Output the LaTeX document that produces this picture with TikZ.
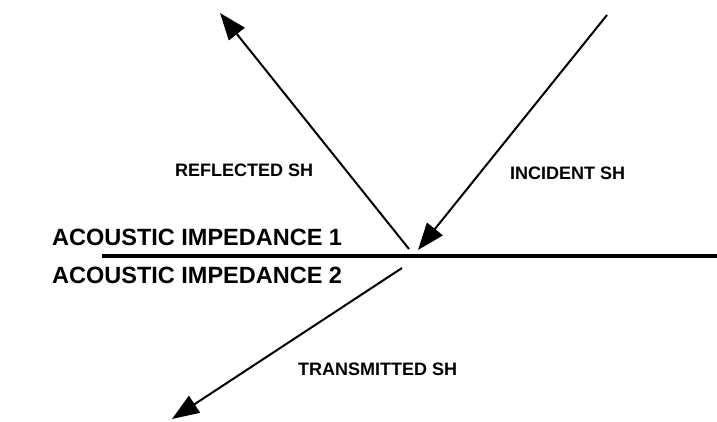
\documentclass[tikz,border=0pt]{standalone}
\usepackage{fontspec}
\setmainfont{Liberation Sans}
\usetikzlibrary{arrows.meta}
\tikzset{
  ray/.style={line width=2pt, -{Triangle[length=27pt,width=20pt]}},
  iface/.style={line width=3.4pt},
  biglabel/.style={anchor=base west, inner sep=0pt, font=\bfseries\fontsize{23.5}{27}\selectfont},
  smalllabel/.style={anchor=base west, inner sep=0pt, font=\bfseries\fontsize{18}{21}\selectfont}
}
\begin{document}
\begin{tikzpicture}[x=1pt,y=-1pt]
\useasboundingbox (0,0) rectangle (717,421);
% interface
\coordinate (ifL) at (102,256);
\coordinate (ifR) at (717,256);
\draw[iface] (ifL) -- (ifR);
% rays
\coordinate (incS) at (607,15);
\coordinate (incE) at (418,250);
\coordinate (refS) at (409,249);
\coordinate (refE) at (220,13);
\coordinate (traS) at (402,268);
\coordinate (traE) at (172,419);
\draw[ray] (incS) -- (incE);
\draw[ray] (refS) -- (refE);
\draw[ray] (traS) -- (traE);
% labels
\node[biglabel] (imp1) at (52,245) {ACOUSTIC IMPEDANCE 1};
\node[biglabel] (imp2) at (52,283) {ACOUSTIC IMPEDANCE 2};
\node[smalllabel] (refl) at (175,176) {REFLECTED SH};
\node[smalllabel] (inc) at (510,179) {INCIDENT SH};
\node[smalllabel] (tra) at (298,375) {TRANSMITTED SH};
\end{tikzpicture}
\end{document}
